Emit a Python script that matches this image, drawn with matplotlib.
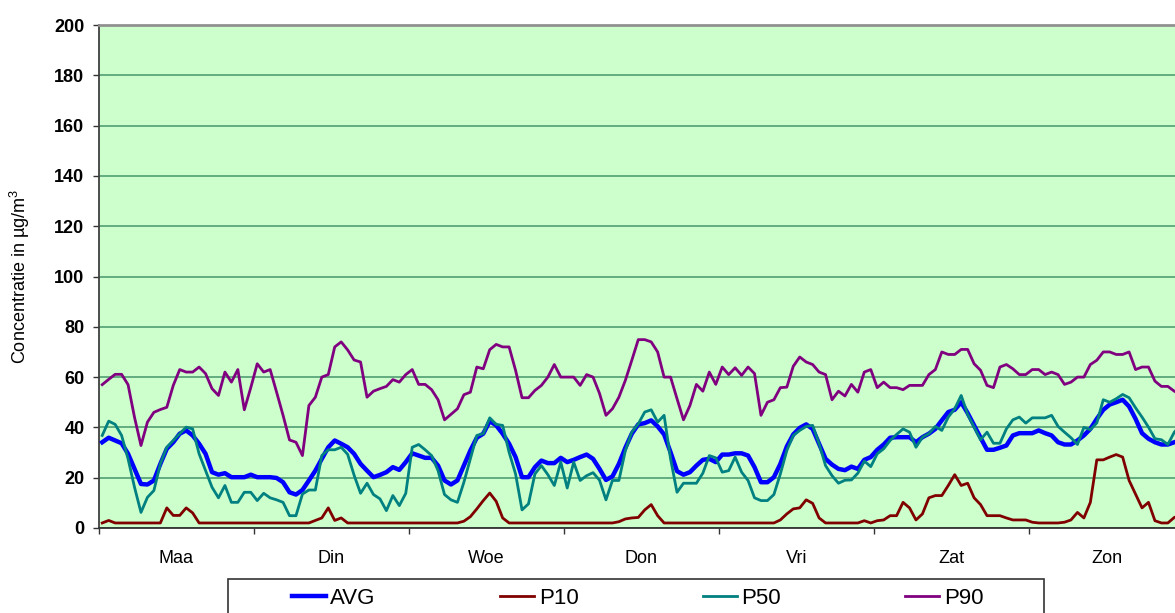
import matplotlib
matplotlib.use("Agg")
import matplotlib.pyplot as plt
from matplotlib.patches import Rectangle
import numpy as np

plt.rcParams['font.family'] = ['Liberation Sans', 'DejaVu Sans']
plt.rcParams['mathtext.fontset'] = 'custom'
plt.rcParams['mathtext.rm'] = 'Liberation Sans'
plt.rcParams['mathtext.it'] = 'Liberation Sans:italic'

days = ['Maa', 'Din', 'Woe', 'Don', 'Vri', 'Zat', 'Zon']
series_names = ['AVG', 'P10', 'P50', 'P90']

avg = [34.1, 35.9, 34.8, 33.7, 29.5, 23.5, 17.5, 17.3, 18.9, 25.5, 31.5, 34.1, 37.5, 38.8, 36.8, 33.5,
       29.5, 22.2, 21.2, 21.8, 20.2, 20.2, 20.2, 21.2, 20.2, 20.2, 20.2, 19.9, 18.2, 14.2, 13.3, 15.1,
       18.9, 22.8, 27.5, 32.1, 34.8, 33.5, 32.1, 29.5,
       25.5, 22.8, 20.2, 21.1, 22.2, 24.2, 23.1, 26.2, 29.7, 28.8, 27.9, 27.9, 24.8, 18.9, 17.3, 18.9,
       24.8, 30.8, 35.9, 37.5, 42.5, 40.8, 37.5, 33.5, 28.2, 20.2, 20.2, 24.2, 26.8, 25.8, 25.8, 27.9,
       26.2, 27.1, 28.2, 29.2, 27.5, 23.5,
       19.1, 20.5, 25.5, 31.9, 37.5, 41.2, 41.7, 42.8, 40.4, 37.2, 30.1, 22.6, 21.2, 22.2, 24.8, 27.1,
       27.5, 26.2, 29.2, 29.2, 29.7, 29.7, 28.8, 24.2, 18.2, 18.2, 20.2, 25.5, 32.4, 37.2, 39.8, 41.2,
       39.4, 33.5, 27.5, 25.2, 23.5, 23.0,
       24.4, 23.5, 27.1, 28.2, 31.1, 33.2, 35.9, 36.1, 36.1, 36.1, 34.1, 36.1, 37.5, 39.4, 42.8, 46.1,
       47.0, 50.0, 45.7, 40.8, 35.9, 31.1, 31.1, 31.9, 32.8, 36.8, 37.7, 37.7, 37.7, 38.8, 37.7, 36.8,
       34.1, 33.2, 33.2, 34.8, 36.8, 39.4, 43.4,
       47.0, 49.1, 50.0, 51.0, 48.3, 43.4, 37.7, 35.5, 34.1, 33.2, 33.2, 34.1, 35.0]

p10 = [2, 3, 2, 2, 2, 2, 2, 2, 2, 2, 8, 5, 5, 8, 6, 2, 2, 2, 2, 2, 2, 2, 2, 2, 2, 2, 2, 2, 2, 2, 2, 2,
       2, 3, 4, 8, 3, 4, 2, 2,
       2, 2, 2, 2, 2, 2, 2, 2, 2, 2, 2, 2, 2, 2, 2, 2, 2.7, 4.5, 7.6, 10.9, 13.9, 10.6, 4, 2, 2, 2, 2, 2,
       2, 2, 2, 2, 2, 2, 2, 2, 2, 2,
       2, 2, 2.5, 3.6, 4, 4.2, 7.2, 9.3, 4.9, 2, 2, 2, 2, 2, 2, 2, 2, 2, 2, 2, 2, 2, 2, 2, 2, 2, 2,
       3.2, 5.6, 7.6, 8, 11.2, 9.8, 4, 2, 2, 2, 2,
       2, 2, 2.9, 2, 2.9, 3.2, 4.9, 4.9, 10.2, 8, 3.2, 5.6, 12, 12.9, 12.9, 16.9, 21.2, 16.9, 17.8, 12,
       9.3, 4.9, 4.9, 4.9, 4, 3.2, 3.2, 3.2, 2.3, 2, 2, 2, 2, 2.3, 3.2, 6.2, 4, 10.2, 27.1,
       27.1, 28.2, 29.2, 28.2, 18.9, 13.5, 8, 10.2, 2.9, 2, 2, 4.2, 5]

p50 = [36.8, 42.5, 41.2, 36.8, 27.5, 16.2, 6.2, 12.2, 14.9, 25.5, 32.1, 34.8, 37.5, 40.1, 39.4, 29.5,
       22.8, 16.2, 12.0, 16.9, 10.2, 10.2, 14.2, 14.2, 10.9, 13.8, 12.0, 11.2, 10.2, 4.9, 4.9, 13.5,
       15.1, 15.1, 28.8, 31.1, 31.1, 32.1, 29.3, 21.0,
       13.8, 17.8, 13.3, 11.6, 6.9, 12.9, 8.9, 13.8, 32.1, 33.2, 31.1, 28.8, 22.8, 13.3, 11.2, 10.2,
       18.2, 27.5, 36.8, 37.5, 43.8, 41.2, 40.8, 30.1, 21.5, 7.2, 9.6, 21.5, 24.8, 21.2, 16.9, 26.2,
       15.9, 26.2, 18.9, 20.8, 22.0, 19.0,
       11.2, 18.9, 18.9, 30.8, 38.1, 41.4, 46.1, 47.0, 42.1, 44.8, 27.5, 14.2, 17.8, 17.8, 17.8, 21.8,
       28.8, 27.9, 22.2, 22.8, 28.2, 22.2, 18.9, 12.0, 10.9, 10.9, 13.3, 21.5, 30.8, 36.8, 38.8, 40.4,
       40.8, 33.5, 24.8, 20.8, 17.8, 19.0,
       19.1, 21.8, 26.6, 24.4, 29.5, 31.5, 34.8, 37.2, 39.4, 38.1, 32.1, 36.1, 37.5, 40.4, 38.8, 44.1,
       47.4, 52.7, 45.2, 40.1, 35.1, 38.1, 33.7, 33.7, 39.4, 43.0, 44.1, 41.7, 43.8, 43.8, 43.8, 44.8,
       40.4, 38.1, 35.9, 33.2, 40.0, 39.1, 41.8,
       51.0, 50.0, 51.4, 53.1, 51.8, 47.8, 44.1, 40.1, 35.5, 35.1, 33.2, 38.1, 41.0]

p90 = [57.0, 59.1, 61.1, 61.1, 57.0, 44.0, 32.8, 42.1, 46.0, 47.1, 48.0, 56.7, 63.0, 62.0, 62.0, 64.0,
       61.4, 55.4, 52.7, 62.0, 58.0, 63.0, 47.0, 55.8, 65.3, 62.0, 63.0, 54.0, 44.8, 35.0, 34.1, 28.8,
       48.7, 52.0, 60.0, 61.0, 72.0, 74.0, 70.8, 66.8,
       66.0, 52.0, 54.4, 55.4, 56.3, 59.0, 58.0, 61.0, 63.0, 57.1, 57.1, 55.0, 51.0, 43.0, 45.2, 47.4,
       53.0, 54.0, 64.0, 63.3, 70.9, 73.0, 72.0, 72.0, 62.7, 51.8, 51.8, 54.7, 56.7, 60.0, 65.0, 60.0,
       60.0, 60.0, 56.7, 61.0, 60.0, 53.5,
       44.8, 47.4, 52.0, 58.7, 66.7, 74.9, 74.9, 74.0, 70.0, 60.0, 60.0, 51.4, 43.0, 48.7, 57.1, 54.4,
       62.0, 57.1, 64.0, 61.0, 63.7, 60.7, 64.0, 61.4, 44.8, 50.0, 51.0, 55.8, 56.0, 64.3, 68.0, 66.0,
       65.0, 62.0, 61.0, 51.0, 54.4, 52.5,
       57.1, 54.0, 62.0, 63.0, 55.8, 58.0, 55.8, 55.8, 55.0, 56.7, 56.7, 56.7, 61.0, 63.0, 70.0, 69.0,
       69.0, 71.0, 71.0, 65.3, 62.7, 56.7, 55.8, 64.0, 65.0, 63.3, 61.0, 61.0, 63.0, 63.0, 61.0, 62.0,
       61.0, 57.1, 58.0, 60.0, 60.0, 65.0, 66.7,
       70.0, 70.0, 69.0, 69.0, 70.0, 63.0, 64.0, 64.0, 58.4, 56.3, 56.3, 54.4, 53.0]

yticks = list(range(0, 201, 20))
colors = ['#0000FF', '#800000', '#008080', '#800080']
widths = [3.2, 2.0, 2.0, 2.0]

W, H = 1175, 613
fig = plt.figure(figsize=(W / 100, H / 100), dpi=100)
ax = fig.add_axes([99 / W, 85 / H, 1085 / W, 503 / H])
ax.set_facecolor('#CCFFCC')

n = len(avg)
x = np.arange(n) + 0.5
handles = []
for name, vals, c, lw in zip(series_names, [avg, p10, p50, p90], colors, widths):
    h, = ax.plot(x, vals, color=c, lw=lw, label=name, solid_joinstyle='round', zorder=3)
    handles.append(h)

ax.set_xlim(0, n)
ax.set_ylim(0, 200)
ax.set_yticks(yticks)
ax.set_yticklabels([str(v) for v in yticks], fontweight='bold', fontsize=13)
ax.yaxis.grid(True, color='#5aa67a', lw=1.3, zorder=1)
ax.set_axisbelow(True)

ax.set_xticks(np.arange(0, n + 1, 24))
ax.set_xticklabels([])
ax.set_xticks(np.arange(12, n, 24), minor=True)
ax.set_xticklabels(days, minor=True, fontsize=13)
ax.tick_params(axis='x', which='minor', length=0, pad=15.5)
ax.tick_params(axis='x', which='major', length=4.5, width=1, color='#333333', direction='out')
ax.tick_params(axis='y', length=4.5, width=1, color='#333333', direction='out', pad=6)

ax.spines['top'].set_color('#909090')
ax.spines['top'].set_linewidth(2)
ax.spines['left'].set_color('#404040')
ax.spines['left'].set_linewidth(1.3)
ax.spines['bottom'].set_color('#333333')
ax.spines['bottom'].set_linewidth(1.3)
ax.spines['right'].set_visible(False)

ax.set_ylabel('Concentratie in µg/m$^{\\mathrm{3}}$', fontsize=13)
ax.yaxis.set_label_coords((32.5 - 99) / 1085, 0.5)

fig.patches.append(Rectangle((228 / W, -10 / H), 816 / W, 44 / H, transform=fig.transFigure,
                             fill=False, edgecolor='#333333', lw=1.2))
fig.legend(handles, series_names, loc='center left', bbox_to_anchor=(292 / W, 1 - 598 / H),
           ncol=4, frameon=False, fontsize=16, handlelength=1.53, handletextpad=0.2,
           columnspacing=5.6, borderpad=0, borderaxespad=0)

fig.savefig('out.png', dpi=100)
